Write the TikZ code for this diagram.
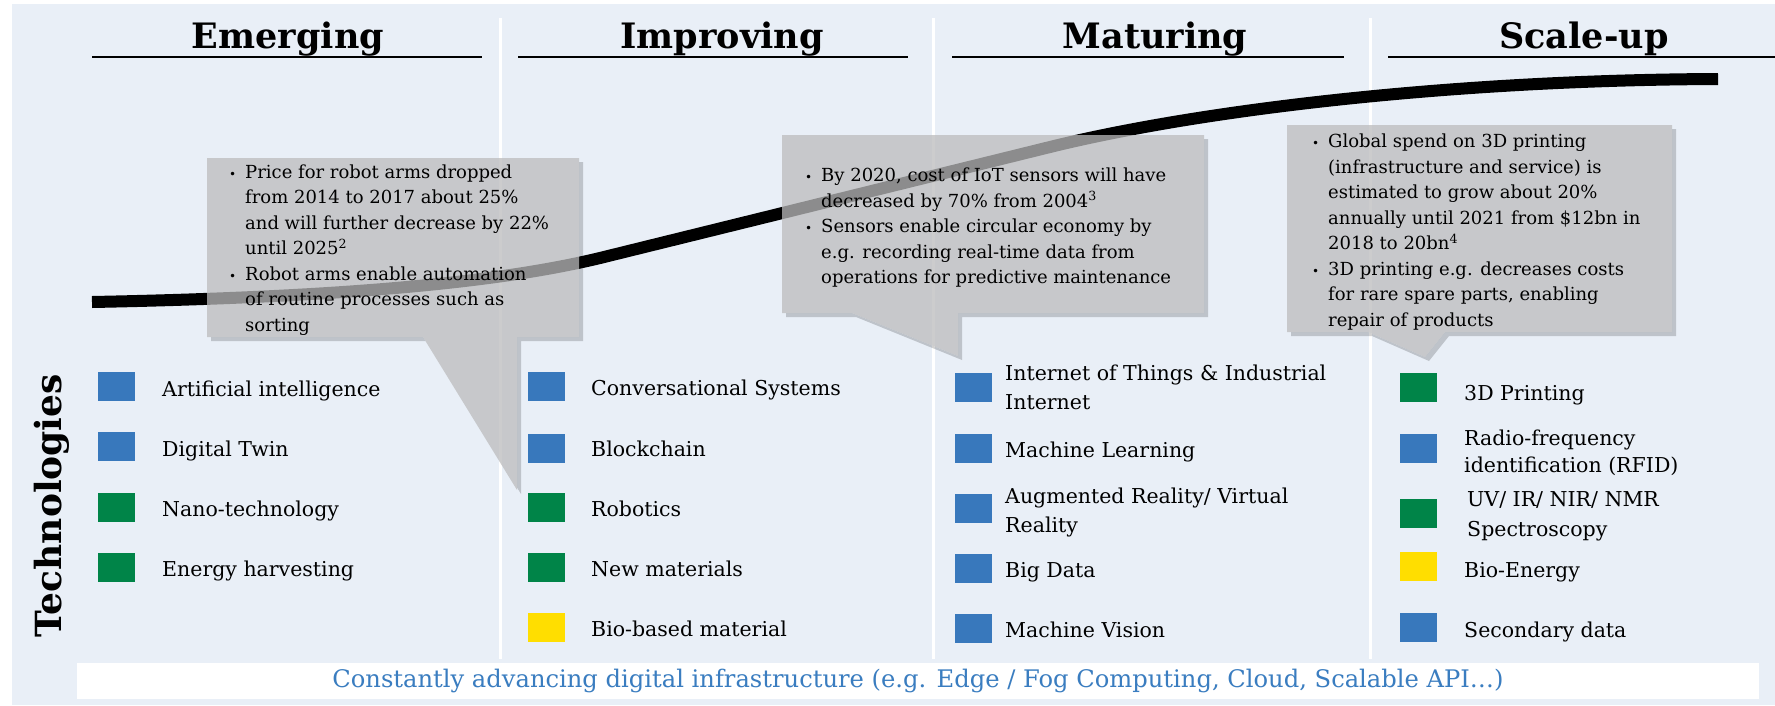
\documentclass[tikz,border=0pt]{standalone}
\usepackage{fontspec}
\setmainfont{DejaVu Serif}
\usepackage{array}
\usetikzlibrary{positioning}
\definecolor{bgblue}{RGB}{233,239,247}
\definecolor{techblue}{RGB}{56,120,188}
\definecolor{techgreen}{RGB}{0,132,72}
\definecolor{techyellow}{RGB}{255,222,0}
\definecolor{calloutgray}{RGB}{188,188,189}
\definecolor{infratext}{RGB}{58,125,192}
\tikzset{phase/.style = {anchor=base, inner sep=0pt, font=\bfseries\fontsize{35}{40}\selectfont}}
\tikzset{phaseline/.style = {line width=2pt}}
\tikzset{divider/.style = {white, line width=3pt}}
\tikzset{sq/.style = {anchor=north west, minimum width=37pt, minimum height=29pt, inner sep=0pt}}
\tikzset{item/.style = {anchor=base west, align=left, inner sep=0pt, font=\fontsize{20.5}{29}\selectfont}}
\tikzset{callout/.style = {fill=calloutgray, fill opacity=.75}}
\tikzset{calloutshadow/.style = {fill=black, opacity=.18}}
\tikzset{callouttext/.style = {anchor=base west, inner sep=0pt, font=\fontsize{18}{25.5}\selectfont}}
\newcommand{\calloutbullet}{{\fontsize{12}{12}\selectfont\textbullet}}
\newcommand{\robotcallout}{(207,158) -- (579,158) -- (579,337) -- (517,337) -- (517,490) -- (423,337) -- (207,337) -- cycle}
\newcommand{\sensorcallout}{(782,135) -- (1204,135) -- (1204,313) -- (958,313) -- (958,356) -- (852,313) -- (782,313) -- cycle}
\newcommand{\printcallout}{(1287,125) -- (1672,125) -- (1672,332) -- (1445,332) -- (1425,357) -- (1368,332) -- (1287,332) -- cycle}

\begin{document}
\begin{tikzpicture}[x=1pt,y=-1pt]
	\useasboundingbox (0,0) rectangle (1775,705);
	\fill[bgblue] (12,4) rectangle (1775,705);
	% dividers between the phases
	\draw[divider] (500,18) -- (500,659);
	\draw[divider] (933,18) -- (933,659);
	\draw[divider] (1370,18) -- (1370,659);
	% phase headings
	\node[phase] (emerging) at (288,48) {Emerging};
	\draw[phaseline] (92,57) -- (482,57);
	\node[phase] (improving) at (722,48) {Improving};
	\draw[phaseline] (518,57) -- (908,57);
	\node[phase] (maturing) at (1155,48) {Maturing};
	\draw[phaseline] (952,57) -- (1344,57);
	\node[phase] (scaleup) at (1584,48) {Scale-up};
	\draw[phaseline] (1388,57) -- (1775,57);
	% s-curve
	\draw[line width=12pt] (92,302) .. controls (350,297) and (500,282) .. (600,258) -- (1050,147) .. controls (1200,110) and (1450,80) .. (1718,79);
	% callouts
	\begin{scope}
		\clip (0,0) -- (0,705) -- (1775,705) -- (1775,0) -- cycle \robotcallout \sensorcallout \printcallout;
		\fill[calloutshadow, shift={(4,4)}] \robotcallout \sensorcallout \printcallout;
	\end{scope}
	\fill[callout] \robotcallout \sensorcallout \printcallout;
	\node[callouttext] (robottext) at (229,178) {\begin{tabular}[t]{@{}p{16pt}@{}l@{}}
		\calloutbullet & Price for robot arms dropped\\
		& from 2014 to 2017 about 25\%\\
		& and will further decrease by 22\%\\
		& until 2025\textsuperscript{2}\\
		\calloutbullet & Robot arms enable automation\\
		& of routine processes such as\\
		& sorting
	\end{tabular}};
	\node[callouttext] (sensortext) at (805,181.5) {\begin{tabular}[t]{@{}p{16pt}@{}l@{}}
		\calloutbullet & By 2020, cost of IoT sensors will have\\
		& decreased by 70\% from 2004\textsuperscript{3}\\
		\calloutbullet & Sensors enable circular economy by\\
		& e.g. recording real-time data from\\
		& operations for predictive maintenance
	\end{tabular}};
	\node[callouttext] (printtext) at (1312,147.5) {\begin{tabular}[t]{@{}p{16pt}@{}l@{}}
		\calloutbullet & Global spend on 3D printing\\
		& (infrastructure and service) is\\
		& estimated to grow about 20\%\\
		& annually until 2021 from \$12bn in\\
		& 2018 to 20bn\textsuperscript{4}\\
		\calloutbullet & 3D printing e.g. decreases costs\\
		& for rare spare parts, enabling\\
		& repair of products
	\end{tabular}};
	% technologies
	\node[rotate=90, inner sep=0pt, font=\bfseries\fontsize{36}{40}\selectfont] (tech) at (52,506) {Technologies};
	\node[sq, fill=techblue] (aisq) at (98,372) {};
	\node[item] (ai) at (162,396.5) {Artificial intelligence};
	\node[sq, fill=techblue] (twinsq) at (98,432) {};
	\node[item] (twin) at (162,456.5) {Digital Twin};
	\node[sq, fill=techgreen] (nanosq) at (98,493) {};
	\node[item] (nano) at (162,516.5) {Nano-technology};
	\node[sq, fill=techgreen] (energysq) at (98,553) {};
	\node[item] (energy) at (162,576.5) {Energy harvesting};
	\node[sq, fill=techblue] (convsq) at (528,372) {};
	\node[item] (conv) at (591,395) {Conversational Systems};
	\node[sq, fill=techblue] (chainsq) at (528,434) {};
	\node[item] (chain) at (591,456.5) {Blockchain};
	\node[sq, fill=techgreen] (robotsq) at (528,493) {};
	\node[item] (robot) at (591,516.5) {Robotics};
	\node[sq, fill=techgreen] (newmatsq) at (528,553) {};
	\node[item] (newmat) at (591,576.5) {New materials};
	\node[sq, fill=techyellow] (biomatsq) at (528,613) {};
	\node[item] (biomat) at (591,636.5) {Bio-based material};
	\node[sq, fill=techblue] (iotsq) at (955,373) {};
	\node[item] (iot) at (1005,409.5) {Internet of Things \& Industrial\\Internet};
	\node[sq, fill=techblue] (mlsq) at (955,434) {};
	\node[item] (ml) at (1005,457.5) {Machine Learning};
	\node[sq, fill=techblue] (arvrsq) at (955,494) {};
	\node[item] (arvr) at (1005,532) {Augmented Reality/ Virtual\\Reality};
	\node[sq, fill=techblue] (bigdatasq) at (955,554) {};
	\node[item] (bigdata) at (1005,577.5) {Big Data};
	\node[sq, fill=techblue] (visionsq) at (955,614) {};
	\node[item] (vision) at (1005,637.5) {Machine Vision};
	\node[sq, fill=techgreen] (printsq) at (1400,373) {};
	\node[item] (print) at (1464,400.5) {3D Printing};
	\node[sq, fill=techblue] (rfidsq) at (1400,434) {};
	\node[item, font=\fontsize{20.5}{27}\selectfont] (rfid) at (1464,472.5) {Radio-frequency\\identification (RFID)};
	\node[sq, fill=techgreen] (spectrosq) at (1400,499) {};
	\node[item, font=\fontsize{20.5}{30}\selectfont] (spectro) at (1467,536.5) {UV/ IR/ NIR/ NMR\\Spectroscopy};
	\node[sq, fill=techyellow] (bioenergysq) at (1400,552) {};
	\node[item] (bioenergy) at (1464,577.5) {Bio-Energy};
	\node[sq, fill=techblue] (secondarysq) at (1400,613) {};
	\node[item] (secondary) at (1464,637.5) {Secondary data};
	% digital infrastructure
	\fill[white] (77,663) rectangle (1759,699);
	\node[text=infratext, font=\fontsize{24.2}{26}\selectfont] (infra) at (918,681) {Constantly advancing digital infrastructure (e.g. Edge / Fog Computing, Cloud, Scalable API\dots)};
\end{tikzpicture}
\end{document}
